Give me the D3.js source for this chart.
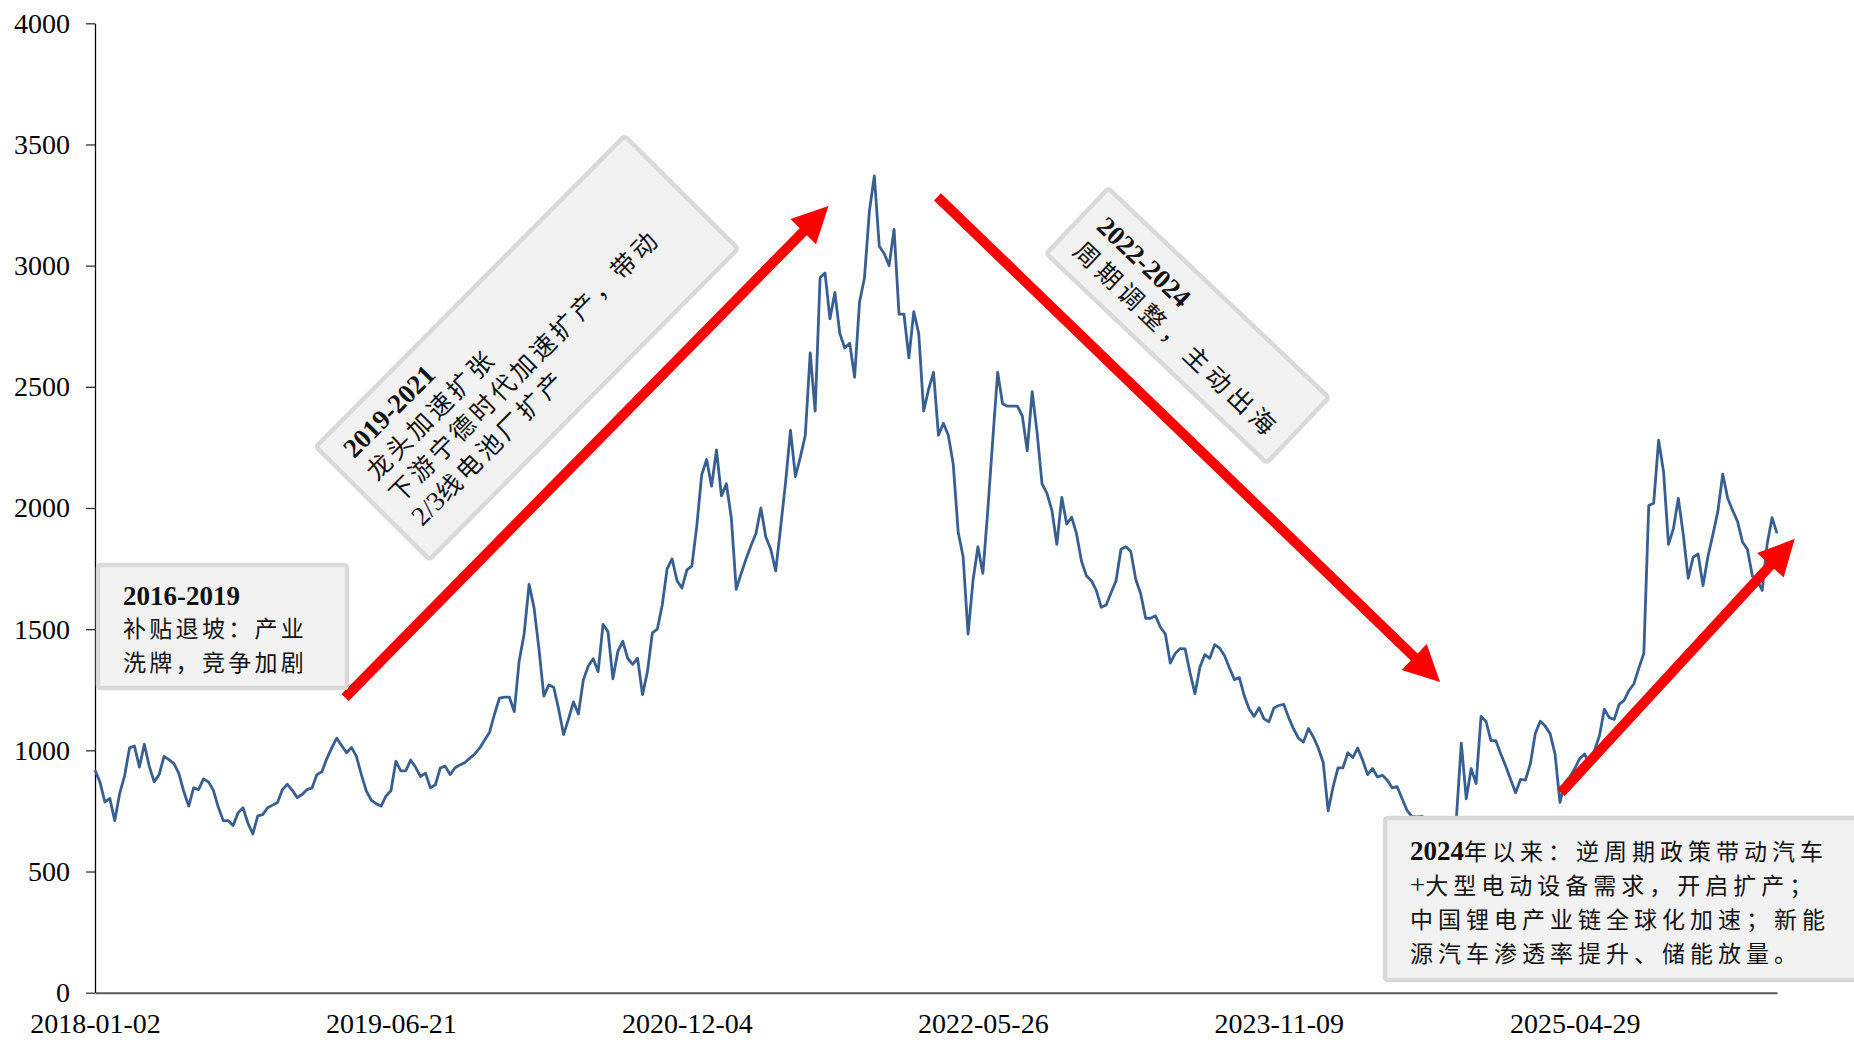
<!DOCTYPE html>
<html>
<head>
<meta charset="utf-8">
<script src="https://cdn.jsdelivr.net/npm/d3@7"></script>
<style>
  html, body { margin: 0; padding: 0; background: #ffffff; }
  svg { display: block; }
</style>
</head>
<body>
<svg id="chart" width="1854" height="1040"></svg>
<script>
// Index level, sampled at even steps of trading days (step index -> value)
const indexValues = [
  918, 870, 787, 802, 710, 822, 895, 1010, 1018, 931,
  1025, 935, 870, 900, 975, 962, 945, 905, 830, 770,
  845, 838, 882, 870, 835, 765, 710, 710, 690, 742,
  763, 700, 655, 730, 735, 763, 774, 785, 838, 860,
  835, 805, 818, 838, 845, 900, 912, 966, 1010, 1050,
  1020, 990, 1012, 975, 900, 833, 795, 780, 770, 812,
  833, 955, 915, 915, 960, 930, 892, 906, 845, 858,
  927, 935, 900, 928, 940, 950, 968, 985, 1010, 1043,
  1075, 1150, 1216, 1220, 1220, 1160, 1370, 1480, 1685, 1590,
  1420, 1224, 1270, 1260, 1170, 1065, 1130, 1200, 1150, 1290,
  1348, 1378, 1325, 1520, 1490, 1295, 1408, 1450, 1380, 1355,
  1380, 1230, 1325, 1485, 1500, 1600, 1750, 1790, 1700, 1670,
  1745, 1760, 1925, 2137, 2200, 2090, 2240, 2050, 2100, 1960,
  1664, 1730, 1790, 1845, 1895, 2000, 1880, 1830, 1740, 1920,
  2105, 2320, 2130, 2210, 2300, 2640, 2400, 2950, 2970, 2780,
  2890, 2720, 2660, 2680, 2540, 2850, 2950, 3226, 3370, 3080,
  3050, 3000, 3150, 2800, 2800, 2620, 2810, 2720, 2400, 2490,
  2560, 2300, 2350, 2300, 2180, 1900, 1800, 1480, 1700, 1840,
  1730, 1990, 2280, 2560, 2430, 2420, 2420, 2420, 2380, 2236,
  2480, 2310, 2100, 2060, 1990, 1850, 2044, 1934, 1962, 1893,
  1780, 1720, 1700, 1660, 1590, 1600, 1650, 1700, 1830, 1840,
  1820, 1705, 1646, 1545, 1545, 1555, 1508, 1480, 1360, 1400,
  1420, 1419, 1320, 1234, 1343, 1395, 1380, 1436, 1422, 1390,
  1340, 1292, 1300, 1225, 1170, 1140, 1176, 1130, 1118, 1175,
  1185, 1190, 1135, 1088, 1050, 1034, 1090, 1055, 1010, 950,
  750, 849, 928, 928, 990, 970, 1010, 959, 900, 925,
  890, 897, 877, 845, 850, 800, 752, 727, 725, 728,
  715, 690, 660, 640, 650, 680, 720, 1030, 800, 925,
  863, 1140, 1120, 1040, 1040, 985, 935, 880, 825, 880,
  877, 945, 1070, 1120, 1100, 1069, 985, 785, 868, 890,
  925, 966, 985, 940, 1000, 1060, 1170, 1135, 1128, 1190,
  1206, 1247, 1275, 1340, 1400, 2010, 2020, 2280, 2150, 1850,
  1915, 2040, 1890, 1710, 1797, 1810, 1680, 1800, 1890, 1985,
  2140, 2040, 1990, 1945, 1860, 1830, 1720, 1701, 1660, 1850,
  1960, 1895
];

// Category labels shown on the date axis and the step they sit at
const tickSteps = [0, 60, 120, 180, 240, 300];
const tickLabels = ["2018-01-02", "2019-06-21", "2020-12-04", "2022-05-26", "2023-11-09", "2025-04-29"];

// Value axis ticks
const yTicks = [0, 500, 1000, 1500, 2000, 2500, 3000, 3500, 4000];

// Trend arrows, in (step, value) units
const trendArrows = [
  { from: [50.7, 1218], to: [148.7, 3246] },
  { from: [170.8, 3284], to: [272.7, 1282] },
  { from: [297.2, 825], to: [344.6, 1873] }
];

const W = 1854, H = 1040;
const plot = { left: 95, right: 1777, top: 23.3, bottom: 992.7 };

const svg = d3.select("#chart");
const LATIN = '"Liberation Serif", "Times New Roman", serif';
const CJK = '"Noto Sans CJK SC", "Liberation Serif", sans-serif';

const x = d3.scaleLinear()
  .domain([0, indexValues.length - 1])
  .range([plot.left, plot.right]);

const y = d3.scaleLinear()
  .domain([0, 4000])
  .range([plot.bottom, plot.top]);

// Y axis
const yAxis = svg.append("g")
  .attr("transform", `translate(${plot.left},0)`)
  .call(d3.axisLeft(y).tickValues(yTicks).tickFormat(d3.format("d"))
    .tickSize(9).tickPadding(16).tickSizeOuter(0));
yAxis.select(".domain").attr("stroke", "#000").attr("stroke-width", 1.3);
yAxis.selectAll(".tick line").attr("stroke", "#333").attr("stroke-width", 1.3);
yAxis.selectAll(".tick text")
  .attr("fill", "#000")
  .style("font-family", LATIN)
  .style("font-size", "28px");

// X axis
const labelByStep = new Map(tickSteps.map((s, i) => [s, tickLabels[i]]));
const xAxis = svg.append("g")
  .attr("transform", `translate(0,${plot.bottom})`)
  .call(d3.axisBottom(x).tickValues(tickSteps).tickFormat(d => labelByStep.get(d))
    .tickSize(0).tickPadding(20).tickSizeOuter(0));
xAxis.select(".domain").attr("stroke", "#5a5a5a").attr("stroke-width", 2);
xAxis.selectAll(".tick text")
  .attr("fill", "#000")
  .style("font-family", LATIN)
  .style("font-size", "28px");

// Index line
const line = d3.line()
  .x((d, i) => x(i))
  .y(d => y(d));

svg.append("path")
  .datum(indexValues)
  .attr("fill", "none")
  .attr("stroke", "#385f91")
  .attr("stroke-width", 2.8)
  .attr("stroke-linejoin", "round")
  .attr("d", line);

// Red trend arrows
function drawArrow(p0, p1) {
  const shaft = 10, headLen = 36, headHalf = 18;
  const dx = p1[0] - p0[0], dy = p1[1] - p0[1];
  const len = Math.hypot(dx, dy);
  const ux = dx / len, uy = dy / len;
  const nx = -uy, ny = ux;
  const bx = p1[0] - ux * headLen, by = p1[1] - uy * headLen;
  const pts = [
    [p0[0] + nx * shaft / 2, p0[1] + ny * shaft / 2],
    [bx + nx * shaft / 2, by + ny * shaft / 2],
    [bx + nx * headHalf, by + ny * headHalf],
    [p1[0], p1[1]],
    [bx - nx * headHalf, by - ny * headHalf],
    [bx - nx * shaft / 2, by - ny * shaft / 2],
    [p0[0] - nx * shaft / 2, p0[1] - ny * shaft / 2]
  ];
  svg.append("polygon")
    .attr("points", pts.map(p => p.join(",")).join(" "))
    .attr("fill", "#ff0000");
}
trendArrows.forEach(a => drawArrow([x(a.from[0]), y(a.from[1])], [x(a.to[0]), y(a.to[1])]));

// Annotation text block: one <text> per note, each line a list of [text, bold, latin] runs
function writeLines(g, lines, x0, baselines, cjkSize, latinSize, spacing) {
  const t = g.append("text").attr("fill", "#111");
  lines.forEach((runs, li) => {
    runs.forEach(([txt, bold, latin], ri) => {
      const s = t.append("tspan")
        .text(txt)
        .style("font-family", latin ? LATIN : CJK)
        .style("font-size", (latin ? latinSize : cjkSize) + "px")
        .style("font-weight", bold ? "700" : "400")
        .style("letter-spacing", latin ? "0px" : spacing + "px");
      if (ri === 0) s.attr("x", x0).attr("y", baselines[li]);
    });
  });
}

function box(g, w, h) {
  g.append("rect")
    .attr("x", 0).attr("y", 0)
    .attr("width", w).attr("height", h)
    .attr("rx", 3)
    .attr("fill", "#f2f2f2")
    .attr("stroke", "#d9d9d9")
    .attr("stroke-width", 4.5);
}

// 2016-2019 note
const g1 = svg.append("g").attr("transform", "translate(98,565)");
box(g1, 249, 123);
writeLines(g1, [
  [["2016-2019", true, true]],
  [["补贴退坡：产业", false, false]],
  [["洗牌，竞争加剧", false, false]]
], 25, [40, 72, 106], 23, 27, 3.3);

// 2019-2021 note (tilted)
const g2 = svg.append("g").attr("transform", "translate(316,446.7) rotate(-45.2)");
box(g2, 438, 160);
writeLines(g2, [
  [["2019-2021", true, true]],
  [["龙头加速扩张", false, false]],
  [["下游宁德时代加速扩产，带动", false, false]],
  [["2/3", false, true], ["线电池厂扩产", false, false]]
], 18, [36, 68, 100, 132], 25, 27, 3.6);

// 2022-2024 note (tilted)
const g3 = svg.append("g").attr("transform", "translate(1108.3,188.3) rotate(43.5)");
box(g3, 304, 90);
writeLines(g3, [
  [["2022-2024", true, true]],
  [["周期调整，主动出海", false, false]]
], 18, [38, 72], 25, 27, 5.2);

// 2024 onward note
const g4 = svg.append("g").attr("transform", "translate(1385,818)");
box(g4, 480, 162);
writeLines(g4, [
  [["2024", true, true], ["年以来：逆周期政策带动汽车", false, false]],
  [["+", false, true], ["大型电动设备需求，开启扩产；", false, false]],
  [["中国锂电产业链全球化加速；新能", false, false]],
  [["源汽车渗透率提升、储能放量。", false, false]]
], 25, [42, 76, 110, 144], 23, 27, 5);
</script>
</body>
</html>
